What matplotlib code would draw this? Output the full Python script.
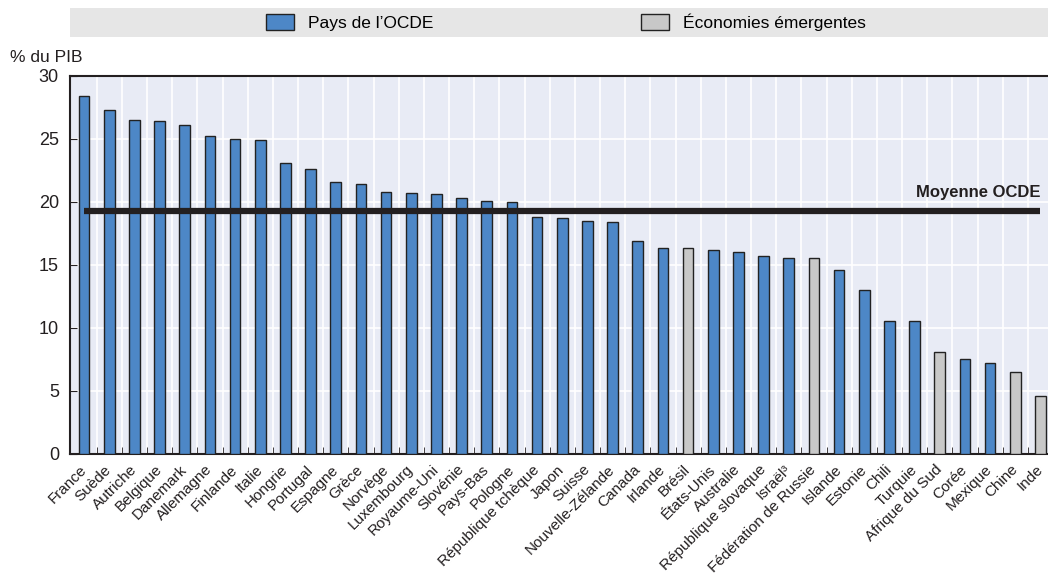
import matplotlib
matplotlib.use("Agg")
import matplotlib.pyplot as plt
from matplotlib.patches import Rectangle, Patch
from matplotlib import font_manager
import numpy as np

# font: condensed if available
names = {f.name for f in font_manager.fontManager.ttflist}
fam = 'Liberation Sans Narrow' if 'Liberation Sans Narrow' in names else 'Liberation Sans'
plt.rcParams['font.family'] = [fam, 'DejaVu Sans']

pays = ["France", "Suède", "Autriche", "Belgique", "Danemark", "Allemagne", "Finlande",
        "Italie", "Hongrie", "Portugal", "Espagne", "Grèce", "Norvège", "Luxembourg",
        "Royaume-Uni", "Slovénie", "Pays-Bas", "Pologne", "République tchèque", "Japon",
        "Suisse", "Nouvelle-Zélande", "Canada", "Irlande", "Brésil", "États-Unis",
        "Australie", "République slovaque", "Israël³", "Fédération de Russie", "Islande",
        "Estonie", "Chili", "Turquie", "Afrique du Sud", "Corée", "Mexique", "Chine", "Inde"]
valeurs = [28.4, 27.3, 26.5, 26.4, 26.1, 25.2, 25.0, 24.9, 23.1, 22.6, 21.6, 21.4, 20.8,
           20.7, 20.6, 20.3, 20.1, 20.0, 18.8, 18.7, 18.5, 18.4, 16.9, 16.3, 16.3, 16.2,
           16.0, 15.7, 15.5, 15.5, 14.6, 13.0, 10.5, 10.5, 8.1, 7.5, 7.2, 6.5, 4.6]
emergents = ["Brésil", "Fédération de Russie", "Afrique du Sud", "Chine", "Inde"]
moyenne_ocde = 19.26

bleu = '#4d87c7'
gris = '#c8c8c8'
couleurs = [gris if p in emergents else bleu for p in pays]

fig = plt.figure(figsize=(10.48, 5.85), dpi=100)
ax = fig.add_axes([70/1048, 1-453.5/585, 978/1048, 377.5/585])
ax.set_facecolor('#e8ebf5')

x = np.arange(len(pays))
ax.bar(x, valeurs, width=0.42, color=couleurs, edgecolor='#222222', linewidth=1.0, zorder=3)
ax.plot([0, len(pays)-1], [moyenne_ocde, moyenne_ocde], color='#231f20', lw=4.5,
        solid_capstyle='butt', zorder=4)
ax.text(len(pays)-1, moyenne_ocde+0.9, 'Moyenne OCDE', ha='right', va='bottom',
        fontsize=12, fontweight='bold', color='#231f20')

ax.set_xlim(-0.56, 38.3)
ax.set_ylim(0, 30)
ax.set_yticks(np.arange(0, 31, 5))
ax.set_yticklabels([str(v) for v in range(0, 31, 5)], fontsize=13, color='#231f20')
ax.set_xticks(x)
ax.set_xticklabels(pays, rotation=45, ha='right', va='center', rotation_mode='anchor',
                   fontsize=11, color='#231f20')
ax.tick_params(axis='x', length=0, pad=10)
ax.tick_params(axis='y', direction='in', length=5, color='#231f20', pad=8)
ax.set_xticks(x[:-1] + 0.5, minor=True)
ax.tick_params(axis='x', which='minor', direction='in', length=5, color='#231f20')
ax.grid(True, which='minor', axis='x', color='white', lw=1.2, zorder=0)
ax.grid(True, which='major', axis='y', color='white', lw=1.2, zorder=0)
for s in ax.spines.values():
    s.set_color('#231f20')
    s.set_linewidth(1.5)
ax.spines['right'].set_visible(False)

fig.text(10/1048, 1-57/585, '% du PIB', fontsize=12.5, va='center', ha='left', color='#231f20')

# bande de légende
fig.patches.append(Rectangle((70/1048, 1-37/585), 978/1048, 29/585, transform=fig.transFigure,
                             facecolor='#e6e6e6', edgecolor='none', zorder=0))
handles = [Patch(facecolor=bleu, edgecolor='#222222', label="Pays de l’OCDE"),
           Patch(facecolor=gris, edgecolor='#222222', label="Économies émergentes")]
fig.legend(handles=handles, loc='center', bbox_to_anchor=(566/1048, 1-22/585), ncol=2,
           frameon=False, fontsize=12.5, columnspacing=12, handlelength=1.6,
           handleheight=1.0, handletextpad=0.8)

fig.savefig('out.png', dpi=100)
